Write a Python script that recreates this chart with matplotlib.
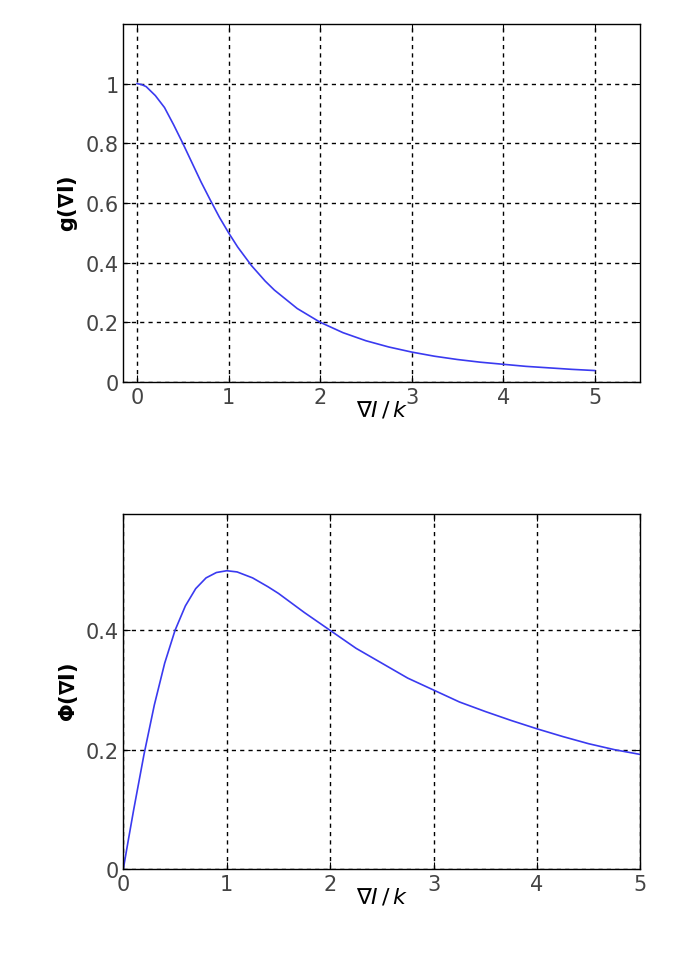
import matplotlib
matplotlib.use("Agg")
import matplotlib.pyplot as plt

# values
x_vals = [0, 0.05, 0.1, 0.2, 0.3, 0.4, 0.5, 0.6, 0.7, 0.8, 0.9, 1.0, 1.1, 1.25, 1.4,
          1.5, 1.75, 2.0, 2.25, 2.5, 2.75, 3.0, 3.25, 3.5, 3.75, 4.0, 4.25, 4.5, 4.75, 5.0]
g_vals = [1.0, 0.997, 0.99, 0.96, 0.92, 0.862, 0.80, 0.735, 0.67, 0.61, 0.552, 0.50,
          0.452, 0.39, 0.338, 0.308, 0.246, 0.20, 0.165, 0.138, 0.117, 0.10, 0.086,
          0.075, 0.066, 0.059, 0.052, 0.047, 0.042, 0.038]
phi_vals = [0.0, 0.05, 0.099, 0.192, 0.275, 0.345, 0.40, 0.441, 0.47, 0.488, 0.497,
            0.50, 0.498, 0.488, 0.473, 0.462, 0.43, 0.40, 0.37, 0.345, 0.32, 0.30,
            0.28, 0.264, 0.249, 0.235, 0.222, 0.21, 0.20, 0.192]

line_color = "#3a3af0"
tick_color = "#444444"
fig = plt.figure(figsize=(6.85, 9.62), dpi=100)

ax1 = fig.add_axes([0.18, 0.602, 0.755, 0.372])
ax1.plot(x_vals, g_vals, color=line_color, lw=1.2)
ax1.set_xlim(-0.15, 5.5)
ax1.set_ylim(0, 1.2)
ax1.set_xticks([0, 1, 2, 3, 4, 5])
ax1.set_yticks([0, 0.2, 0.4, 0.6, 0.8, 1.0])
ax1.set_yticklabels(["0", "0.2", "0.4", "0.6", "0.8", "1"])
ax1.set_ylabel(r"$\mathbf{g(\nabla I)}$", fontsize=15)
ax1.set_xlabel(r"$\nabla I\,/\,k$", fontsize=16, labelpad=-6)

ax2 = fig.add_axes([0.18, 0.0956, 0.755, 0.369])
ax2.plot(x_vals, phi_vals, color=line_color, lw=1.2)
ax2.set_xlim(0, 5)
ax2.set_ylim(0, 0.595)
ax2.set_xticks([0, 1, 2, 3, 4, 5])
ax2.set_yticks([0, 0.2, 0.4])
ax2.set_yticklabels(["0", "0.2", "0.4"])
ax2.set_ylabel(r"$\mathbf{\Phi(\nabla I)}$", fontsize=15)
ax2.set_xlabel(r"$\nabla I\,/\,k$", fontsize=16, labelpad=-6)

for ax in (ax1, ax2):
    ax.grid(True, color="black", linestyle=(0, (3, 3)), lw=1)
    ax.tick_params(direction="in", labelsize=15, length=5, top=True, right=True,
                   labelcolor=tick_color)
    for s in ax.spines.values():
        s.set_linewidth(1)

fig.savefig("out.png", dpi=100)
